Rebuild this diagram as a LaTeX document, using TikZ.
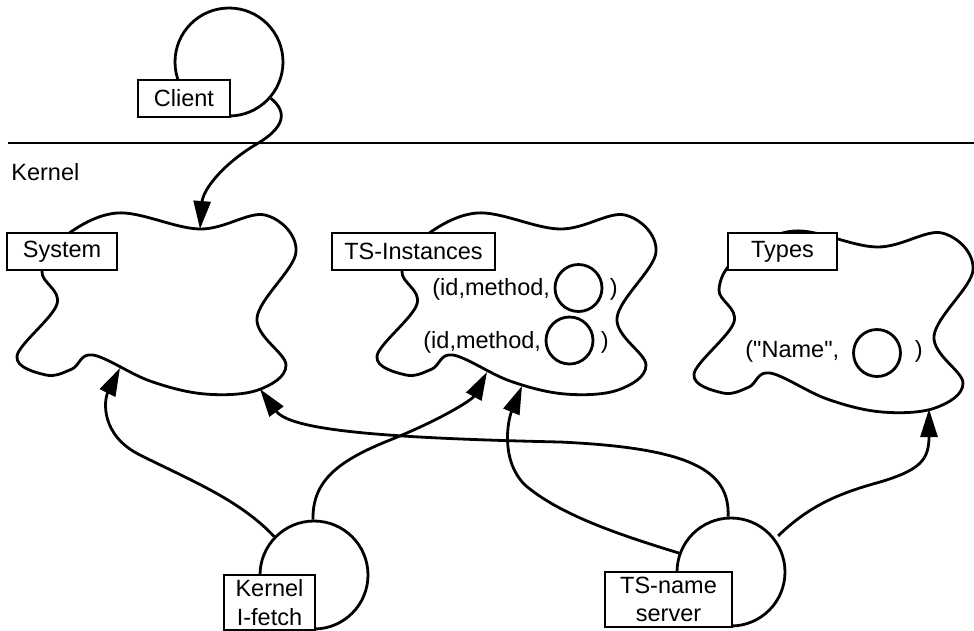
\documentclass[tikz,border=0pt]{standalone}
\usepackage{fontspec}
\setmainfont{Liberation Sans}[Ligatures=TeXOff]
\usetikzlibrary{arrows.meta}

\begin{document}
\begin{tikzpicture}[x=1pt,y=-1pt,
  line width=2.8pt,
  txt/.style={font=\fontsize{23.5}{28.5}\selectfont, inner sep=0pt},
  tag/.style={txt, draw, fill=white, align=center},
  proc/.style={draw, circle, inner sep=0pt, minimum size=108pt},
  slot/.style={draw, circle, inner sep=0pt, minimum size=47pt},
  flow/.style={-{Triangle[length=28pt,width=17pt]}},
  pics/space/.style={code={%
    \draw[line join=round] plot[smooth cycle, tension=0.6] coordinates {
      (60,240) (117,213) (200,229) (265,215) (296,252) (257,318)
      (286,365) (258,390) (205,394) (150,381) (93,355) (72,369)
      (46,375) (17,356) (57,304) (42,272)};}}
]
\useasboundingbox (0,0) rectangle (974,630);

% user / kernel boundary
\draw (8,143) -- (974,143);
\node[txt, anchor=base west] (kernel) at (10,180) {Kernel};

% client process
\node[proc] (cc) at (229,62) {};
\node[tag, minimum width=92pt, minimum height=37pt] (client) at (184,98.5) {Client};

% kernel spaces
\pic at (0,0) {space};
\pic at (360,0) {space};
\pic at (677,18) {space};

\node[tag, minimum width=110pt, minimum height=37pt] (system) at (62,251.5) {System};
\node[tag, minimum width=163pt, minimum height=37pt] (inst) at (413.5,251.5) {TS-Instances};
\node[tag, minimum width=109pt, minimum height=37pt] (types) at (782.5,251.5) {Types};

% tuples
\node[txt, anchor=base west] (r1) at (431,295) {(id,method,};
\node[slot] (s1) at (578.5,288) {};
\node[txt, anchor=base west] (r1e) at (608.5,295) {)};
\node[txt, anchor=base west] (r2) at (422,348) {(id,method,};
\node[slot] (s2) at (569.5,340.5) {};
\node[txt, anchor=base west] (r2e) at (599.5,348) {)};
\node[txt, anchor=base west] (r3) at (744,357) {("Name",};
\node[slot] (s3) at (877,353) {};
\node[txt, anchor=base west] (r3e) at (913.5,357) {)};

% kernel processes
\node[proc] (kc) at (314,575) {};
\node[tag, minimum width=91pt, minimum height=55pt] (kfetch) at (269.5,602.5) {Kernel\\I-fetch};
\node[proc] (nc) at (731,572) {};
\node[tag, minimum width=127pt, minimum height=55pt] (nserv) at (668.5,599.5) {TS-name\\server};

% arrow targets on the spaces
\coordinate (sysTop) at (200,229);
\coordinate (sysBL) at (120,368);
\coordinate (sysBR) at (260,389);
\coordinate (tsBL) at (487,372);
\coordinate (tsB) at (522,386);
\coordinate (tyB) at (929,409);

% connectors
\draw[flow] (cc.-41) .. controls (288,112) and (285,128) .. (255,145)
  .. controls (222,165) and (203,190) .. (sysTop);
\draw[flow] (kc.136) .. controls (240,500) and (190,480) .. (140,455)
  .. controls (100,435) and (104,400) .. (sysBL);
\draw[flow] (kc.91) .. controls (312,480) and (340,460) .. (390,440)
  .. controls (440,420) and (472,400) .. (tsBL);
\draw[flow] (nc.93) .. controls (730,470) and (690,448) .. (560,442)
  .. controls (380,438) and (290,430) .. (sysBR);
\draw[flow] (nc.160) .. controls (620,535) and (560,515) .. (525,485)
  .. controls (500,460) and (508,420) .. (tsB);
\draw[flow, shorten <=4pt] (nc.37) .. controls (810,505) and (840,493) .. (880,482)
  .. controls (920,470) and (929,460) .. (tyB);
\end{tikzpicture}
\end{document}
